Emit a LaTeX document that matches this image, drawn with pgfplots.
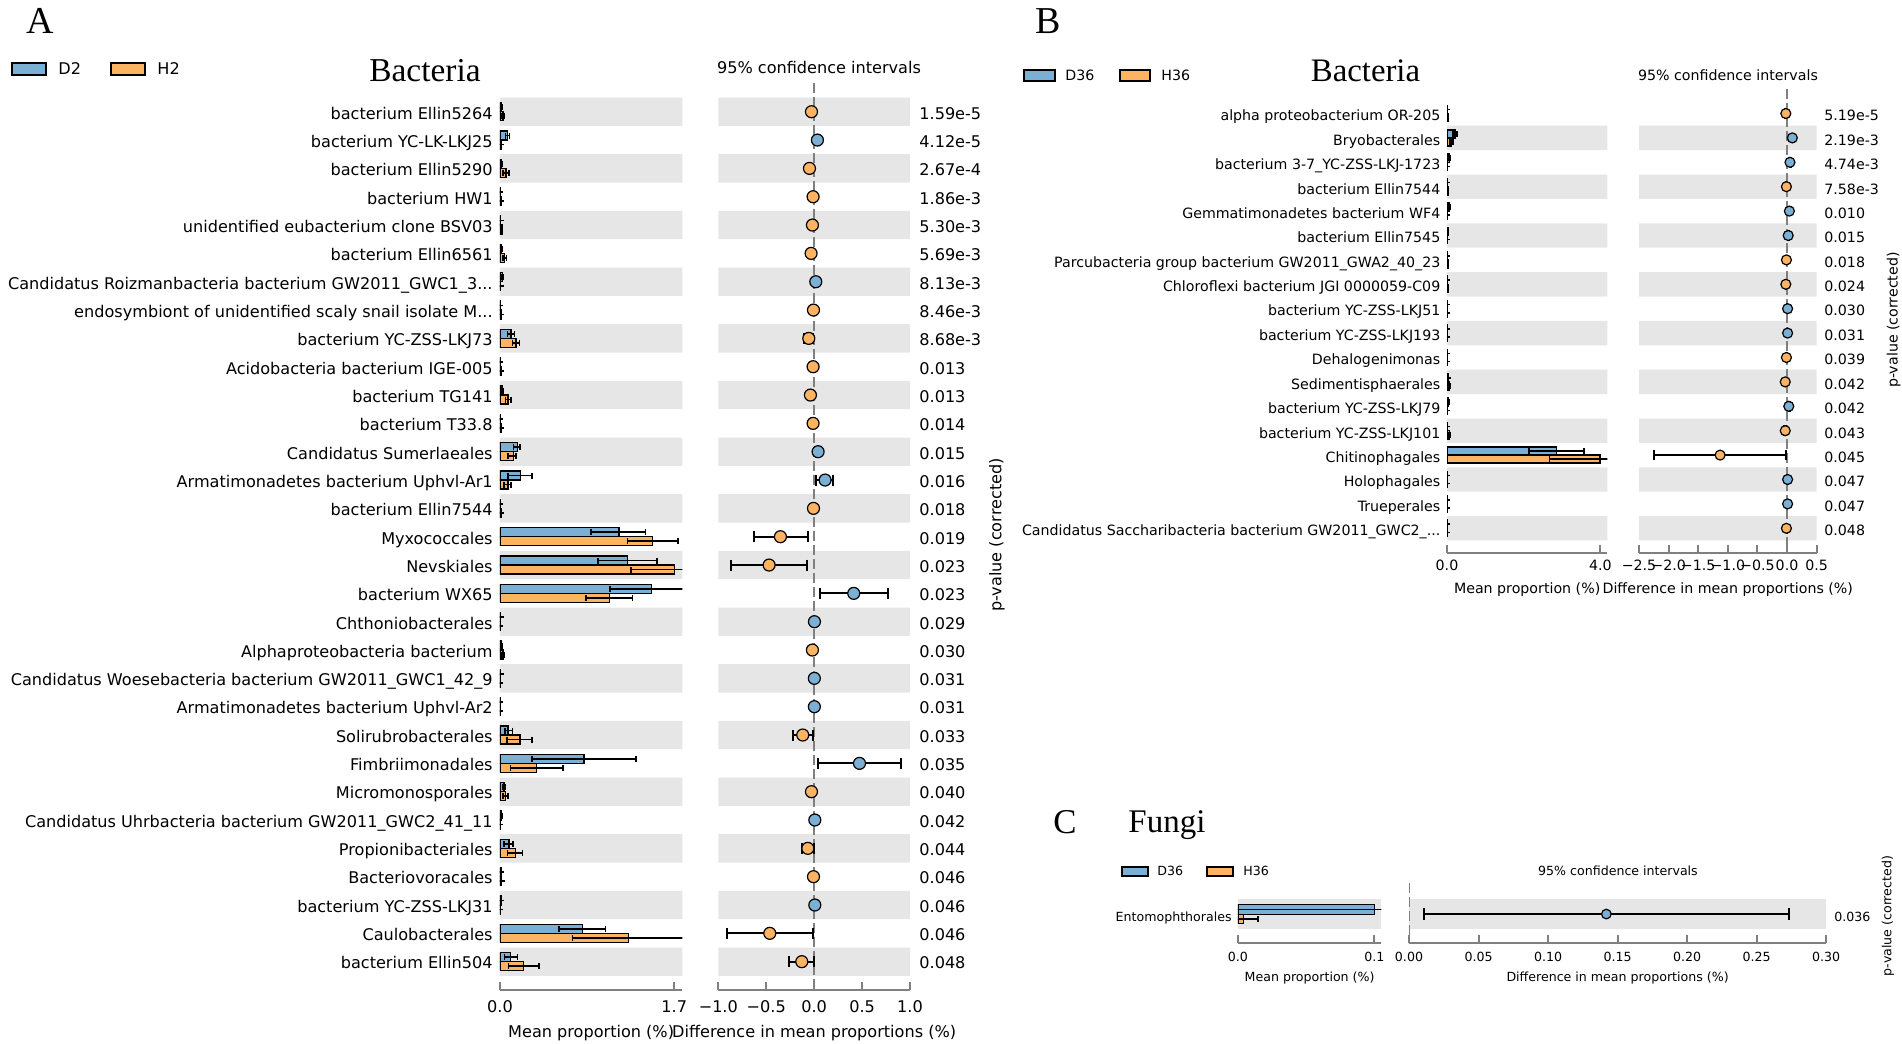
\documentclass[border=0pt]{standalone}
\usepackage{pgfplots}
\pgfplotsset{compat=1.18}
\usepackage{fontspec}
\setmainfont{DejaVu Sans}
\newfontfamily\seriffont{Liberation Serif}
\definecolor{myblue}{RGB}{123,175,212}
\definecolor{myorange}{RGB}{253,180,98}
\definecolor{bandgray}{RGB}{230,230,230}
\definecolor{spinegray}{RGB}{128,128,128}
\newcommand\fA{\fontsize{8.05}{9.5}\selectfont}
\newcommand\fB{\fontsize{7.1}{8.5}\selectfont}
\newcommand\fC{\fontsize{6.3}{7.5}\selectfont}
\newcommand\ddd{...}

\pgfplotsset{
  stampbase/.style={
    scale only axis,
    y dir=reverse,
    axis x line*=bottom,
    axis line style={-},
    x axis line style={spinegray, line width=1pt},
    y axis line style={draw=none},
    ytick style={draw=none},
    xtick style={spinegray, line width=1pt},
    tick align=inside,
    major tick length=4pt,
    /pgf/number format/assume math mode=true,
    clip=true,
  },
  barpanel/.style={stampbase, axis y line*=left},
  cipanel/.style={stampbase, axis y line*=right},
  band/.style={xbar, bar width=1, bar shift=0, fill=bandgray, draw=none, forget plot},
  % bar series: #1 colour, #2 bar width, #3 offset in rows, #4 cap size
  meanbar/.style n args={4}{xbar, bar width=#2, bar shift=0, y filter/.expression={y+#3},
     fill=#1, draw=black, line width=0.75pt,
     error bars/x dir=both, error bars/x explicit,
     error bars/error bar style={black, line width=0.8pt},
     error bars/error mark options={black, line width=0.8pt, rotate=90, mark size=#4}},
  % CI points: #1 colour, #2 marker radius, #3 cap size
  cipoint/.style n args={3}{only marks, mark=*, mark size=#2,
     mark options={fill=#1, draw=black, line width=0.6pt},
     error bars/x dir=both, error bars/x explicit,
     error bars/error bar style={black, line width=1pt},
     error bars/error mark options={black, line width=1pt, rotate=90, mark size=#3}},
}

\begin{document}
\begin{tikzpicture}
\path[use as bounding box] (0,0) rectangle (951pt,522pt);

%================ Panel A =================
\node[anchor=base, inner sep=0pt, font=\seriffont\fontsize{19}{19}\selectfont] at (20pt,505.35pt) {A};
\draw[fill=myblue, line width=1pt] (6pt,484.5pt) rectangle (23pt,490.5pt);
\node[anchor=base west, inner sep=0pt, font=\fA] at (29pt,484.5pt) {D2};
\draw[fill=myorange, line width=1pt] (55.5pt,484.5pt) rectangle (72.5pt,490.5pt);
\node[anchor=base west, inner sep=0pt, font=\fA] at (78.5pt,484.5pt) {H2};
\node[anchor=base, inner sep=0pt, font=\seriffont\fontsize{16.7}{17}\selectfont] at (212.5pt,481.15pt) {Bacteria};
\node[anchor=base, inner sep=0pt, font=\fA] at (409.5pt,485pt) {95\% confidence intervals};
\node[rotate=90, inner sep=0pt, font=\fA] at (498.5pt,254.5pt) {p-value (corrected)};

\begin{axis}[barpanel, at={(250pt,27pt)}, anchor=south west,
  width=91.15pt, height=453.3pt,
  xmin=0, xmax=1.778, ymin=-1, ymax=31,
  xtick={0,1.7}, xticklabels={0.0,1.7},
  ytick={0,...,30},
  yticklabels={bacterium Ellin5264,bacterium YC-LK-LKJ25,bacterium Ellin5290,bacterium HW1,unidentified eubacterium clone BSV03,bacterium Ellin6561,Candidatus Roizmanbacteria bacterium GW2011\_GWC1\_3\ddd,endosymbiont of unidentified scaly snail isolate M\ddd,bacterium YC-ZSS-LKJ73,Acidobacteria bacterium IGE-005,bacterium TG141,bacterium T33.8,Candidatus Sumerlaeales,Armatimonadetes bacterium Uphvl-Ar1,bacterium Ellin7544,Myxococcales,Nevskiales,bacterium WX65,Chthoniobacterales,Alphaproteobacteria bacterium,Candidatus Woesebacteria bacterium GW2011\_GWC1\_42\_9,Armatimonadetes bacterium Uphvl-Ar2,Solirubrobacterales,Fimbriimonadales,Micromonosporales,Candidatus Uhrbacteria bacterium GW2011\_GWC2\_41\_11,Propionibacteriales,Bacteriovoracales,bacterium YC-ZSS-LKJ31,Caulobacterales,bacterium Ellin504},
  ticklabel style={font=\fA},
  xticklabel style={anchor=base, yshift=-11pt},
  yticklabel style={anchor=east, inner sep=0pt, xshift=-3.5pt, text height=0.73em, text depth=0pt},
  xlabel={Mean proportion (\%)},
  x label style={at={(axis description cs:0.5,0)}, anchor=base, yshift=-23.5pt, font=\fA},
]
\addplot[band] coordinates {(1.778,0) (1.778,2) (1.778,4) (1.778,6) (1.778,8) (1.778,10) (1.778,12) (1.778,14) (1.778,16) (1.778,18) (1.778,20) (1.778,22) (1.778,24) (1.778,26) (1.778,28) (1.778,30)};
\addplot[meanbar={myblue}{0.318}{-0.159}{1.5pt}]
coordinates {
(0.012,0) +- (0.005,0)
(0.072,1) +- (0.02,0)
(0.012,2) +- (0.005,0)
(0.004,3) +- (0,0)
(0.006,4) +- (0,0)
(0.012,5) +- (0.005,0)
(0.022,6) +- (0.008,0)
(0.003,7) +- (0,0)
(0.105,8) += (0.035,0) -= (0.03,0)
(0.003,9) +- (0,0)
(0.02,10) +- (0.008,0)
(0.003,11) +- (0,0)
(0.17,12) += (0.025,0) -= (0.04,0)
(0.2,13) += (0.11,0) -= (0.12,0)
(0.002,14) +- (0,0)
(1.161,15) += (0.26,0) -= (0.273,0)
(1.245,16) += (0.286,0) -= (0.292,0)
(1.476,17) +- (0.403,0)
(0.006,18) +- (0,0)
(0.015,19) +- (0.006,0)
(0.005,20) +- (0,0)
(0.004,21) +- (0,0)
(0.08,22) += (0.04,0) -= (0.03,0)
(0.819,23) +- (0.508,0)
(0.04,24) +- (0.015,0)
(0.012,25) +- (0.005,0)
(0.09,26) += (0.034,0) -= (0.05,0)
(0.01,27) +- (0,0)
(0.008,28) +- (0,0)
(0.806,29) += (0.222,0) -= (0.231,0)
(0.104,30) += (0.066,0) -= (0.06,0)
};
\addplot[meanbar={myorange}{0.318}{0.159}{1.5pt}]
coordinates {
(0.03,0) +- (0.01,0)
(0.008,1) +- (0,0)
(0.06,2) +- (0.028,0)
(0.01,3) +- (0,0)
(0.018,4) +- (0.005,0)
(0.045,5) +- (0.018,0)
(0.005,6) +- (0,0)
(0.01,7) +- (0,0)
(0.156,8) +- (0.035,0)
(0.012,9) +- (0,0)
(0.08,10) +- (0.025,0)
(0.012,11) +- (0,0)
(0.13,12) += (0.026,0) -= (0.05,0)
(0.08,13) += (0.025,0) -= (0.04,0)
(0.01,14) +- (0,0)
(1.489,15) +- (0.247,0)
(1.70,16) +- (0.425,0)
(1.07,17) += (0.224,0) -= (0.234,0)
(0.002,18) +- (0,0)
(0.03,19) +- (0.01,0)
(0.002,20) +- (0,0)
(0.001,21) +- (0,0)
(0.195,22) += (0.12,0) -= (0.127,0)
(0.358,23) +- (0.254,0)
(0.055,24) +- (0.025,0)
(0.003,25) +- (0,0)
(0.153,26) += (0.065,0) -= (0.078,0)
(0.015,27) +- (0,0)
(0.002,28) +- (0,0)
(1.252,29) +- (0.543,0)
(0.228,30) += (0.15,0) -= (0.147,0)
};
\end{axis}

\begin{axis}[cipanel, at={(359.15pt,27pt)}, anchor=south west,
  width=95.85pt, height=453.3pt,
  xmin=-1, xmax=1, ymin=-1, ymax=31,
  xtick={-1,-0.5,0,0.5,1}, xticklabels={−1.0,−0.5,0.0,0.5,1.0},
  ytick={0,...,30},
  yticklabels={1.59e-5,4.12e-5,2.67e-4,1.86e-3,5.30e-3,5.69e-3,8.13e-3,8.46e-3,8.68e-3,0.013,0.013,0.014,0.015,0.016,0.018,0.019,0.023,0.023,0.029,0.030,0.031,0.031,0.033,0.035,0.040,0.042,0.044,0.046,0.046,0.046,0.048},
  ticklabel style={font=\fA},
  xticklabel style={anchor=base, yshift=-11pt},
  yticklabel style={anchor=west, inner sep=0pt, xshift=4.5pt, text height=0.73em, text depth=0pt},
  xlabel={Difference in mean proportions (\%)},
  x label style={at={(axis description cs:0.5,0)}, anchor=base, yshift=-23.5pt, font=\fA},
]
\addplot[band] coordinates {(1,0) (1,2) (1,4) (1,6) (1,8) (1,10) (1,12) (1,14) (1,16) (1,18) (1,20) (1,22) (1,24) (1,26) (1,28) (1,30)};
\addplot[band] coordinates {(-1,0) (-1,2) (-1,4) (-1,6) (-1,8) (-1,10) (-1,12) (-1,14) (-1,16) (-1,18) (-1,20) (-1,22) (-1,24) (-1,26) (-1,28) (-1,30)};
\draw[spinegray, line width=1.1pt, dash pattern=on 5pt off 2pt] (axis cs:0,-1) -- (axis cs:0,31);
\addplot[cipoint={myblue}{3pt}{2.75pt}]
coordinates {
(0.034,1) +- (0.02,0)
(0.017,6) +- (0.015,0)
(0.041,12) +- (0.03,0)
(0.114,13) += (0.086,0) -= (0.094,0)
(0.413,17) += (0.362,0) -= (0.35,0)
(0.003,18) +- (0.003,0)
(0.002,20) +- (0.002,0)
(0.002,21) +- (0.002,0)
(0.473,23) += (0.434,0) -= (0.435,0)
(0.007,25) +- (0.006,0)
(0.007,28) +- (0.006,0)
};
\addplot[cipoint={myorange}{3pt}{2.75pt}]
coordinates {
(-0.028,0) +- (0.015,0)
(-0.049,2) +- (0.03,0)
(-0.011,3) +- (0.008,0)
(-0.018,4) +- (0.01,0)
(-0.032,5) +- (0.02,0)
(-0.007,7) +- (0.005,0)
(-0.056,8) +- (0.045,0)
(-0.011,9) +- (0.008,0)
(-0.039,10) +- (0.025,0)
(-0.011,11) +- (0.008,0)
(-0.007,14) +- (0.005,0)
(-0.352,15) += (0.285,0) -= (0.278,0)
(-0.47,16) +- (0.393,0)
(-0.018,19) +- (0.01,0)
(-0.119,22) +- (0.105,0)
(-0.028,24) +- (0.02,0)
(-0.066,26) += (0.063,0) -= (0.064,0)
(-0.007,27) +- (0.005,0)
(-0.463,29) += (0.456,0) -= (0.447,0)
(-0.129,30) += (0.125,0) -= (0.129,0)
};
\end{axis}

%================ Panel B =================
\node[anchor=base, inner sep=0pt, font=\seriffont\fontsize{19}{19}\selectfont] at (524.25pt,505.1pt) {B};
\draw[fill=myblue, line width=1pt] (512pt,481.5pt) rectangle (527.5pt,487pt);
\node[anchor=base west, inner sep=0pt, font=\fB] at (532.5pt,481.75pt) {D36};
\draw[fill=myorange, line width=1pt] (560pt,481.5pt) rectangle (575pt,487pt);
\node[anchor=base west, inner sep=0pt, font=\fB] at (580.5pt,481.75pt) {H36};
\node[anchor=base, inner sep=0pt, font=\seriffont\fontsize{16.4}{17}\selectfont] at (682.75pt,481.25pt) {Bacteria};
\node[anchor=base, inner sep=0pt, font=\fB] at (864pt,481.5pt) {95\% confidence intervals};
\node[rotate=90, inner sep=0pt, font=\fB] at (946.8pt,362pt) {p-value (corrected)};

\begin{axis}[barpanel, at={(723.5pt,245.65pt)}, anchor=south west,
  width=80.15pt, height=231.8pt,
  xmin=0, xmax=4.18, ymin=-1, ymax=18,
  xtick={0,4}, xticklabels={0.0,4.0},
  ytick={0,...,17},
  yticklabels={alpha proteobacterium OR-205,Bryobacterales,bacterium 3-7\_YC-ZSS-LKJ-1723,bacterium Ellin7544,Gemmatimonadetes bacterium WF4,bacterium Ellin7545,Parcubacteria group bacterium GW2011\_GWA2\_40\_23,Chloroflexi bacterium JGI 0000059-C09,bacterium YC-ZSS-LKJ51,bacterium YC-ZSS-LKJ193,Dehalogenimonas,Sedimentisphaerales,bacterium YC-ZSS-LKJ79,bacterium YC-ZSS-LKJ101,Chitinophagales,Holophagales,Trueperales,Candidatus Saccharibacteria bacterium GW2011\_GWC2\_\ddd},
  ticklabel style={font=\fB},
  xticklabel style={anchor=base, yshift=-8.85pt},
  yticklabel style={anchor=east, inner sep=0pt, xshift=-3.15pt, text height=0.73em, text depth=0pt},
  xlabel={Mean proportion (\%)},
  x label style={at={(axis description cs:0.5,0)}, anchor=base, yshift=-20.4pt, font=\fB},
]
\addplot[band] coordinates {(4.18,1) (4.18,3) (4.18,5) (4.18,7) (4.18,9) (4.18,11) (4.18,13) (4.18,15) (4.18,17)};
\addplot[meanbar={myblue}{0.33}{-0.165}{1.4pt}]
coordinates {
(0.005,0) +- (0,0)
(0.21,1) +- (0.05,0)
(0.06,2) +- (0.02,0)
(0.005,3) +- (0,0)
(0.06,4) +- (0.02,0)
(0.02,5) +- (0.01,0)
(0.003,6) +- (0,0)
(0.005,7) +- (0,0)
(0.015,8) +- (0,0)
(0.01,9) +- (0,0)
(0.003,10) +- (0,0)
(0.02,11) +- (0,0)
(0.045,12) +- (0.02,0)
(0.01,13) +- (0,0)
(2.856,14) +- (0.72,0)
(0.015,15) +- (0,0)
(0.01,16) +- (0,0)
(0.002,17) +- (0,0)
};
\addplot[meanbar={myorange}{0.33}{0.165}{1.4pt}]
coordinates {
(0.02,0) +- (0.01,0)
(0.12,1) +- (0.04,0)
(0.01,2) +- (0,0)
(0.02,3) +- (0.01,0)
(0.01,4) +- (0,0)
(0.005,5) +- (0,0)
(0.02,6) +- (0.01,0)
(0.03,7) +- (0.01,0)
(0.003,8) +- (0,0)
(0.003,9) +- (0,0)
(0.015,10) +- (0,0)
(0.06,11) +- (0.02,0)
(0.005,12) +- (0,0)
(0.06,13) +- (0.02,0)
(3.99,14) +- (1.32,0)
(0.003,15) +- (0,0)
(0.003,16) +- (0,0)
(0.015,17) +- (0,0)
};
\end{axis}

\begin{axis}[cipanel, at={(819.5pt,245.65pt)}, anchor=south west,
  width=88.8pt, height=231.8pt,
  xmin=-2.5, xmax=0.5, ymin=-1, ymax=18,
  xtick={-2.5,-2,-1.5,-1,-0.5,0,0.5}, xticklabels={−2.5,−2.0,−1.5,−1.0,−0.5,0.0,0.5},
  ytick={0,...,17},
  yticklabels={5.19e-5,2.19e-3,4.74e-3,7.58e-3,0.010,0.015,0.018,0.024,0.030,0.031,0.039,0.042,0.042,0.043,0.045,0.047,0.047,0.048},
  ticklabel style={font=\fB},
  xticklabel style={anchor=base, yshift=-8.85pt},
  yticklabel style={anchor=west, inner sep=0pt, xshift=3.7pt, text height=0.73em, text depth=0pt},
  xlabel={Difference in mean proportions (\%)},
  x label style={at={(axis description cs:0.5,0)}, anchor=base, yshift=-20.4pt, font=\fB},
]
\addplot[band] coordinates {(0.5,1) (0.5,3) (0.5,5) (0.5,7) (0.5,9) (0.5,11) (0.5,13) (0.5,15) (0.5,17)};
\addplot[band] coordinates {(-2.5,1) (-2.5,3) (-2.5,5) (-2.5,7) (-2.5,9) (-2.5,11) (-2.5,13) (-2.5,15) (-2.5,17)};
\draw[spinegray, line width=1pt, dash pattern=on 5pt off 2pt] (axis cs:0,-1) -- (axis cs:0,18);
\addplot[cipoint={myblue}{2.5pt}{2.6pt}]
coordinates {
(0.09,1) +- (0.03,0)
(0.05,2) +- (0.02,0)
(0.04,4) +- (0.02,0)
(0.02,5) +- (0.01,0)
(0.01,8) +- (0.005,0)
(0.01,9) +- (0.005,0)
(0.03,12) +- (0.02,0)
(0.01,15) +- (0.005,0)
(0.01,16) +- (0.005,0)
};
\addplot[cipoint={myorange}{2.5pt}{2.6pt}]
coordinates {
(-0.02,0) +- (0.01,0)
(-0.01,3) +- (0.005,0)
(-0.01,6) +- (0.005,0)
(-0.02,7) +- (0.01,0)
(-0.01,10) +- (0.005,0)
(-0.03,11) +- (0.02,0)
(-0.03,13) +- (0.02,0)
(-1.13,14) +- (1.11,0)
(-0.01,17) +- (0.005,0)
};
\end{axis}

%================ Panel C =================
\node[anchor=base, inner sep=0pt, font=\seriffont\fontsize{17.4}{18}\selectfont] at (532.5pt,105.35pt) {C};
\node[anchor=base west, inner sep=0pt, font=\seriffont\fontsize{16.5}{17}\selectfont] at (564pt,105.5pt) {Fungi};
\draw[fill=myblue, line width=0.9pt] (561pt,84pt) rectangle (574pt,88.5pt);
\node[anchor=base west, inner sep=0pt, font=\fC] at (578.5pt,84.25pt) {D36};
\draw[fill=myorange, line width=0.9pt] (603.5pt,84pt) rectangle (616.5pt,88.5pt);
\node[anchor=base west, inner sep=0pt, font=\fC] at (621.5pt,84.25pt) {H36};
\node[anchor=base, inner sep=0pt, font=\fC] at (809pt,84.25pt) {95\% confidence intervals};
\node[rotate=90, inner sep=0pt, font=\fC] at (944pt,64pt) {p-value (corrected)};

\begin{axis}[barpanel, at={(618.9pt,50.35pt)}, anchor=south west,
  width=71.8pt, height=30.15pt,
  xmin=0, xmax=0.1052, ymin=-1.03, ymax=0.97,
  xtick={0,0.1}, xticklabels={0.0,0.1},
  ytick={0}, yticklabels={Entomophthorales},
  ticklabel style={font=\fC},
  xticklabel style={anchor=base, yshift=-8.9pt},
  yticklabel style={anchor=east, inner sep=0pt, xshift=-2.9pt, text height=0.73em, text depth=0pt},
  xlabel={Mean proportion (\%)},
  x label style={at={(axis description cs:0.5,0)}, anchor=base, yshift=-19.35pt, font=\fC},
]
\addplot[band] coordinates {(0.1052,0)};
\addplot[meanbar={myblue}{0.33}{-0.15}{1.4pt}] coordinates {(0.1,0) +- (0.11,0)};
\addplot[meanbar={myorange}{0.30}{0.17}{1.4pt}] coordinates {(0.004,0) +- (0.011,0)};
\end{axis}

\begin{axis}[cipanel, at={(704.5pt,50.35pt)}, anchor=south west,
  width=208.6pt, height=30.15pt,
  xmin=0, xmax=0.3, ymin=-1.03, ymax=0.97,
  xtick={0,0.05,0.1,0.15,0.2,0.25,0.3}, xticklabels={0.00,0.05,0.10,0.15,0.20,0.25,0.30},
  ytick={0}, yticklabels={0.036},
  ticklabel style={font=\fC},
  xticklabel style={anchor=base, yshift=-8.9pt},
  yticklabel style={anchor=west, inner sep=0pt, xshift=3.9pt, text height=0.73em, text depth=0pt},
  xlabel={Difference in mean proportions (\%)},
  x label style={at={(axis description cs:0.5,0)}, anchor=base, yshift=-19.35pt, font=\fC},
]
\addplot[band] coordinates {(0.3,0)};
\draw[spinegray, line width=1pt, dash pattern=on 5pt off 2pt] (axis cs:0,-1.03) -- (axis cs:0,0.97);
\addplot[cipoint={myblue}{2.4pt}{3pt}] coordinates {(0.1419,0) +- (0.131,0)};
\end{axis}
\end{tikzpicture}
\end{document}
